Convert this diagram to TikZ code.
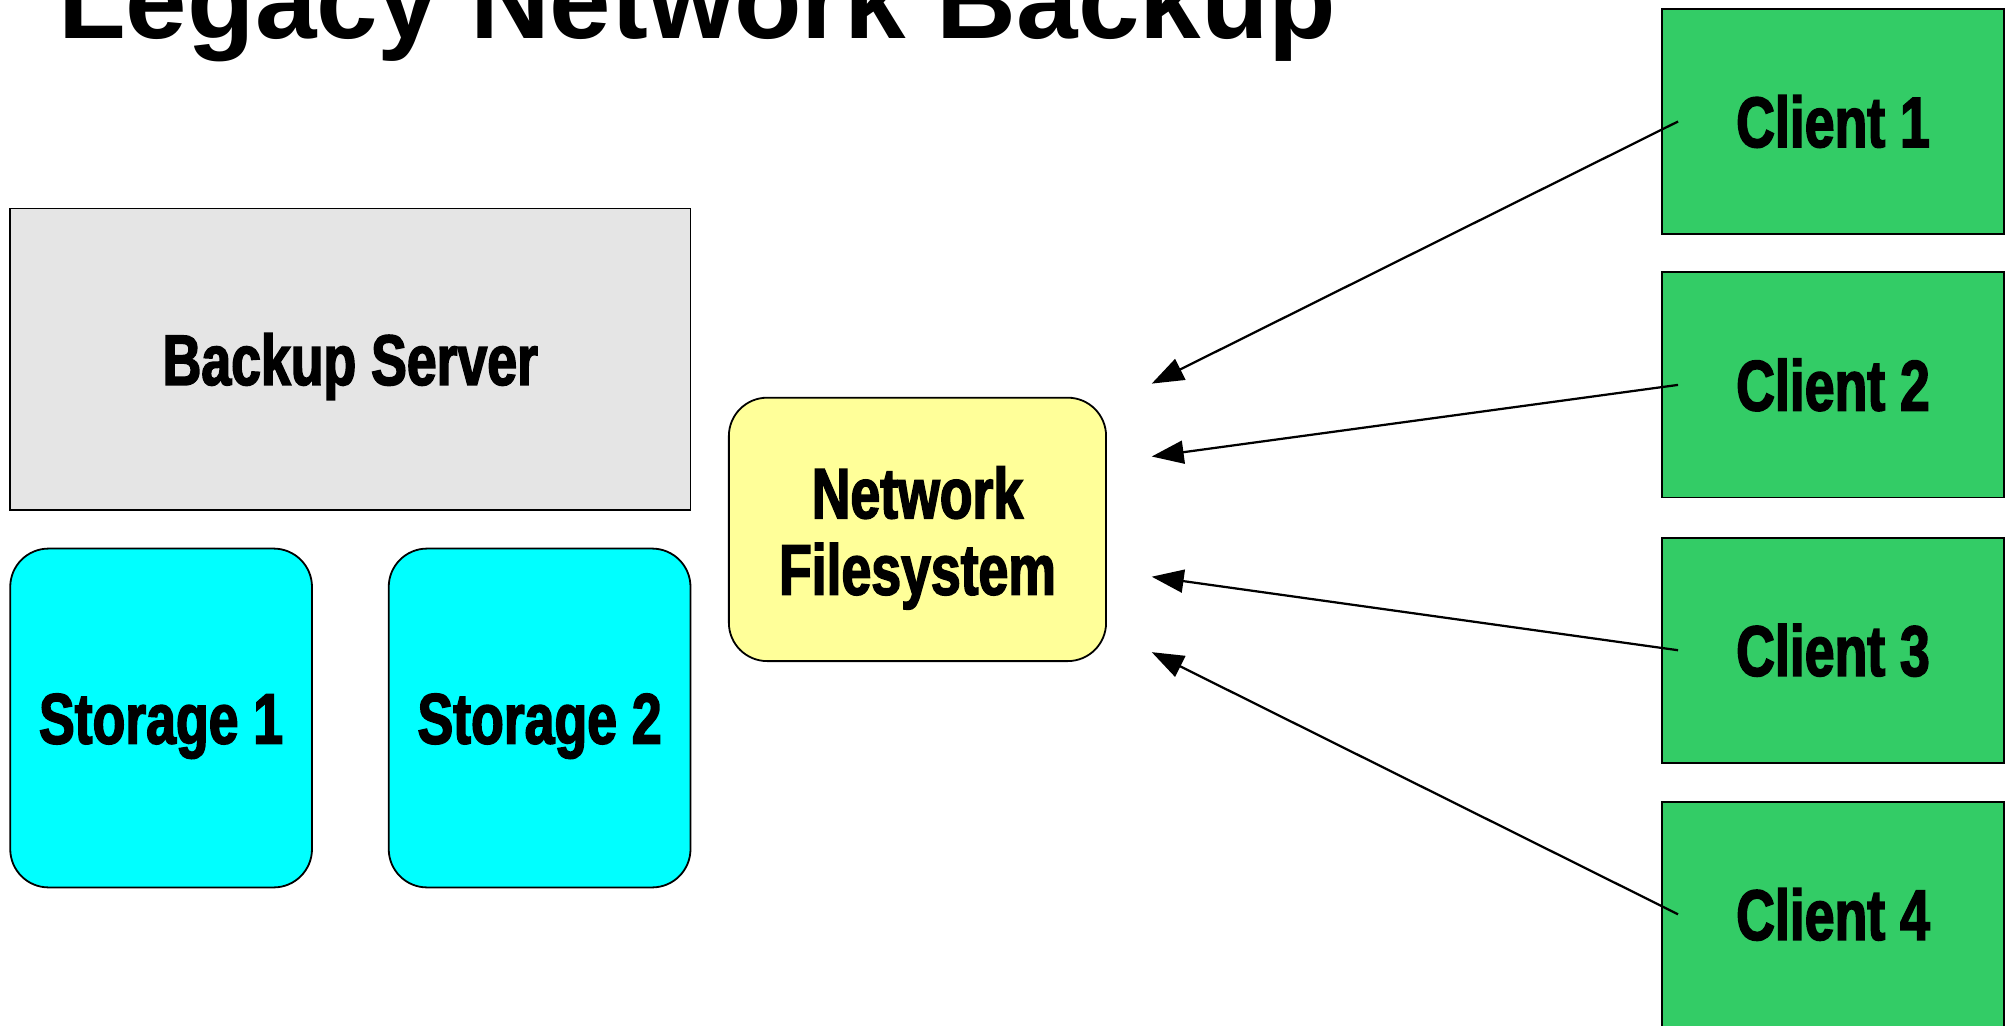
\documentclass[tikz,border=0pt]{standalone}
\usepackage{fontspec}
\setmainfont{Liberation Sans}
\newfontfamily\boxfont[FakeStretch=0.75,FakeBold=2.2]{Liberation Sans Bold}
\usetikzlibrary{arrows.meta}

\definecolor{servergray}{HTML}{E5E5E5}
\definecolor{storecyan}{HTML}{00FFFF}
\definecolor{nfsyellow}{HTML}{FFFF99}
\definecolor{clientgreen}{HTML}{33CC66}

\tikzset{
    box/.style={draw, line width=0.4pt, inner sep=0pt, font=\boxfont\fontsize{15.9}{17}\selectfont},
    oneline/.style={text height=0.4cm, text depth=0cm},
    server/.style={box, oneline, fill=servergray, minimum width=5.32cm, minimum height=2.36cm},
    store/.style={box, oneline, rounded corners=0.3cm, fill=storecyan, minimum width=2.36cm, minimum height=2.65cm},
    client/.style={box, oneline, fill=clientgreen, minimum width=2.67cm, minimum height=1.76cm},
    feed/.style={line width=0.5pt, -{Triangle[length=0.25cm, width=0.18cm]}}
}

\begin{document}
\begin{tikzpicture}
    \useasboundingbox (0,0) rectangle (15.68,-8.02);
    \node[anchor=base west, inner sep=0pt, font=\bfseries\fontsize{24.6}{28}\selectfont] (title) at (0.45,-0.30) {Legacy Network Backup};
    \node[server] (server) at (2.74,-2.81) {Backup Server};
    \node[store] (store1) at (1.26,-5.615) {Storage 1};
    \node[store] (store2) at (4.22,-5.615) {Storage 2};
    \node[box, rounded corners=0.3cm, fill=nfsyellow, minimum width=2.95cm, minimum height=2.06cm, align=center, text height=1.02cm, text depth=0cm] (nfs) at (7.175,-4.14) {Network\\Filesystem};
    \foreach \n/\y in {1/-0.95, 2/-3.01, 3/-5.085, 4/-7.15}
        \node[client] (client\n) at (14.335,\y) {Client \n};
    \foreach \n/\dy in {1/1.14cm, 2/0.57cm, 3/-0.37cm, 4/-0.96cm} {
        \coordinate (drop\n) at ([xshift=0.35cm, yshift=\dy]nfs.east);
        \draw[feed] ([xshift=0.13cm]client\n.west) -- (drop\n);
    }
\end{tikzpicture}
\end{document}
